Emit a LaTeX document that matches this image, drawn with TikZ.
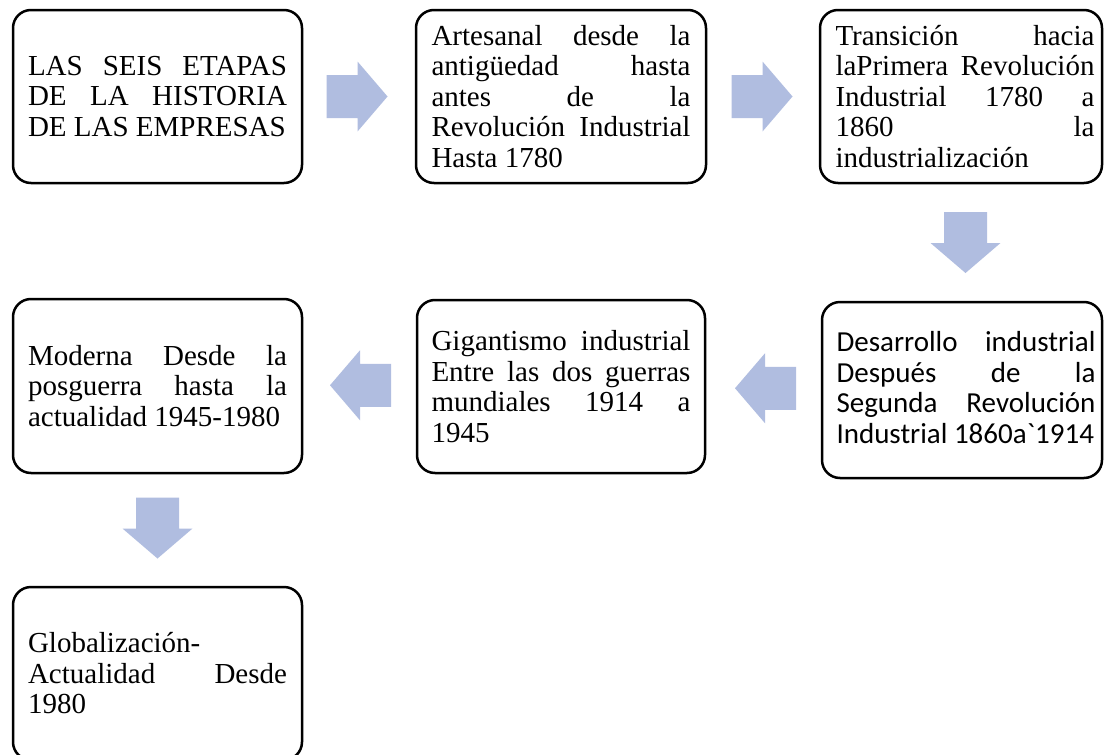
\documentclass[tikz,border=0pt]{standalone}
\usepackage{fontspec}
\setmainfont{Liberation Serif}
\newfontfamily\calfont{Carlito}[Ligatures=TeXOff]
\usetikzlibrary{calc}
\definecolor{arrowc}{RGB}{176,189,224}
\newcommand\jl[1]{\hbox to 259pt{#1}}
\newcommand\jlx[1]{\hbox{\kern8pt\hbox to 259pt{#1}}}
\tikzset{
  stagebox/.style={draw=black, line width=2.5pt, rounded corners=18pt, fill=white,
    align=left, font=\fontsize{29}{30.5}\selectfont, inner sep=0pt},
  barrow/.pic={\fill[arrowc] (-30.5,-21.5) -- (0.5,-21.5) -- (0.5,-35) -- (30.5,0)
     -- (0.5,35) -- (0.5,21.5) -- (-30.5,21.5) -- cycle;}
}
\begin{document}
\begin{tikzpicture}[x=1pt,y=-1pt]
\useasboundingbox[fill=white] (0,0) rectangle (1104,755);

\node[stagebox, minimum width=289pt, minimum height=173pt] (b1) at (157.5,96.5)
  {\jl{LAS\hfill SEIS\hfill ETAPAS}\\ \jl{DE\hfill LA\hfill HISTORIA}\\ DE LAS EMPRESAS};
\node[stagebox, minimum width=290pt, minimum height=173pt] (b2) at (561,96.5)
  {\jl{Artesanal\hfill desde\hfill la}\\ \jl{antigüedad\hfill hasta}\\ \jl{antes\hfill de\hfill la}\\ \jl{Revolución\hfill Industrial}\\ Hasta 1780};
\node[stagebox, minimum width=282pt, minimum height=173pt] (b3) at (961,96.5)
  {\jlx{Transición\hfill hacia}\\ \jlx{laPrimera\hfill Revolución}\\ \jlx{Industrial\hfill 1780\hfill a}\\ \jlx{1860\hfill la}\\ \jlx{industrialización\hfill}};
\node[stagebox, minimum width=280pt, minimum height=176pt, font=\calfont\fontsize{29}{30.8}\selectfont] (b4) at (962,390)
  {\jlx{Desarrollo\hfill industrial}\\ \jlx{Después\hfill de\hfill la}\\ \jlx{Segunda\hfill Revolución}\\ \jlx{Industrial 1860a`1914\hfill}\vphantom{g}};
\node[stagebox, minimum width=288pt, minimum height=173pt] (b5) at (561,386.5)
  {\jl{Gigantismo\hfill industrial}\\ \jl{Entre\hfill las\hfill dos\hfill guerras}\\ \jl{mundiales\hfill 1914\hfill a}\\ 1945};
\node[stagebox, minimum width=289pt, minimum height=174pt] (b6) at (157.5,386)
  {\jl{Moderna\hfill Desde\hfill la}\\ \jl{posguerra\hfill hasta\hfill la}\\ actualidad 1945-1980};
\node[stagebox, minimum width=289pt, minimum height=173pt] (b7) at (157.5,673.5)
  {Globalización-\\ \jl{Actualidad\hfill Desde}\\ 1980};

\pic at ($(b1.east)!0.5!(b2.west)+(-2,0)$) {barrow};
\pic at ($(b2.east)!0.5!(b3.west)+(-1,0)$) {barrow};
\pic[rotate=-90] at ($(b3.south)!0.5!(b4.north)+(4,0)$) {barrow};
\pic[rotate=180] at ($(b4.west)!0.5!(b5.east)+(2,0)$) {barrow};
\pic[rotate=180] at ($(b5.west)!0.5!(b6.east)+(1,-1)$) {barrow};
\pic[rotate=-90] at ($(b6.south)!0.5!(b7.north)+(0,-2)$) {barrow};
\end{tikzpicture}
\end{document}
